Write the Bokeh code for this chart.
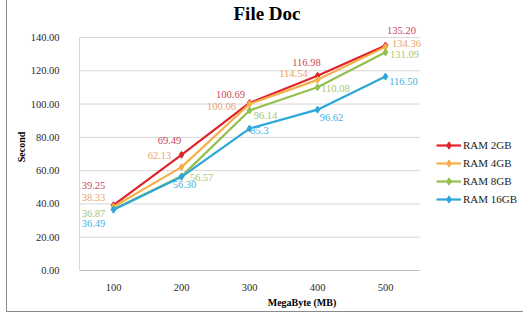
from bokeh.plotting import figure
from bokeh.models import (ColumnDataSource, Range1d, FixedTicker,
                          NumeralTickFormatter, LabelSet, Legend, LegendItem)
from bokeh.embed import file_html
from bokeh.resources import INLINE

# ---- data ----
sizes = [100, 200, 300, 400, 500]
series_names = ["RAM 2GB", "RAM 4GB", "RAM 8GB", "RAM 16GB"]
ram_2gb = [39.25, 69.49, 100.69, 116.98, 135.20]
ram_4gb = [38.33, 62.13, 100.06, 114.54, 134.36]
ram_8gb = [36.87, 56.57, 96.14, 110.08, 131.09]
ram_16gb = [36.49, 56.30, 85.3, 96.62, 116.50]
label_2gb = ["39.25", "69.49", "100.69", "116.98", "135.20"]
label_4gb = ["38.33", "62.13", "100.06", "114.54", "134.36"]
label_8gb = ["36.87", "56.57", "96.14", "110.08", "131.09"]
label_16gb = ["36.49", "56.30", "85.3", "96.62", "116.50"]
y_ticks = [0, 20, 40, 60, 80, 100, 120, 140]

# ---- styling (label offsets in screen px) ----
line_colors = ["#e0222b", "#f5b04a", "#93c04d", "#2ba7d8"]
text_colors = ["#c9475a", "#eaa46c", "#a6c772", "#45b0e0"]
dx_2gb = [-20, -12, -19, -11, 16]
dy_2gb = [20, 14, 8, 13, 15]
dx_4gb = [-20, -22, -28, -24, 21]
dy_4gb = [9, 12, -3, 6, 3]
dx_8gb = [-20, 20, 16, 18, 19]
dy_8gb = [-4, -1, -5, -1, -2]
dx_16gb = [-20, 3, 10, 14, 18]
dy_16gb = [-14, -8, -2, -8, -5]

FONT = "Liberation Serif"

step = sizes[1] - sizes[0]
x_lo = sizes[0] - step / 2
x_hi = sizes[-1] + step / 2

p = figure(width=517, height=312,
           x_range=Range1d(x_lo, x_lo + 445 / 0.68),
           y_range=Range1d(0, 148.4), output_backend="svg", toolbar_location=None,
           min_border_left=72, min_border_right=0, min_border_top=22,
           min_border_bottom=42)
p.outline_line_color = None
p.background_fill_color = "white"
p.border_fill_color = "white"
p.styles = {"margin-left": "6px", "border-left": "1px solid #8a8a8a",
            "border-bottom": "1px solid #8a8a8a"}

p.title.text = "File Doc"
p.title.align = "left"
p.title.offset = 154
p.title.standoff = 0
p.title.text_font = FONT
p.title.text_font_size = "19px"
p.title.text_font_style = "bold"
p.title.text_color = "black"

p.xgrid.grid_line_color = None
p.ygrid.grid_line_color = None

# horizontal gridlines limited to the plot area (category span)
p.segment(x0=x_lo, x1=x_hi, y0=y_ticks, y1=y_ticks, line_color="#d6d6d6",
          line_width=1, level="underlay")

p.xaxis.ticker = FixedTicker(ticks=sizes)
p.xaxis.bounds = (x_lo, x_hi)
p.yaxis.ticker = FixedTicker(ticks=y_ticks)
p.yaxis.bounds = (y_ticks[0], y_ticks[-1])
p.yaxis.formatter = NumeralTickFormatter(format="0.00")

for ax in (p.xaxis[0], p.yaxis[0]):
    ax.major_tick_line_color = None
    ax.minor_tick_line_color = None
    ax.major_label_text_font = FONT
    ax.major_label_text_font_size = "10.5px"
    ax.major_label_text_color = "#2a2a2a"
    ax.axis_label_text_font = FONT
    ax.axis_label_text_font_style = "bold"
    ax.axis_label_text_font_size = "10px"
    ax.axis_label_text_color = "black"

p.xaxis.axis_label = "MegaByte (MB)"
p.xaxis.axis_line_color = "#bfbfbf"
p.xaxis.major_label_standoff = 7
p.xaxis.axis_label_standoff = 3
p.yaxis.axis_label = "Second"
p.yaxis.axis_line_color = "#d9d9d9"
p.yaxis.major_label_standoff = 14
p.yaxis.axis_label_standoff = 1

all_vals = [ram_2gb, ram_4gb, ram_8gb, ram_16gb]
all_labels = [label_2gb, label_4gb, label_8gb, label_16gb]
all_dx = [dx_2gb, dx_4gb, dx_8gb, dx_16gb]
all_dy = [dy_2gb, dy_4gb, dy_8gb, dy_16gb]

items = []
for name, vals, labs, dx, dy, lc, tc in zip(series_names, all_vals, all_labels,
                                            all_dx, all_dy, line_colors, text_colors):
    src = ColumnDataSource(dict(x=sizes, y=vals, t=labs, dx=dx, dy=dy))
    r1 = p.line("x", "y", source=src, line_color=lc, line_width=2.2)
    r2 = p.scatter("x", "y", source=src, marker="diamond", size=7,
                   fill_color=lc, line_color=lc)
    items.append(LegendItem(label=name, renderers=[r1, r2]))
    ls = LabelSet(x="x", y="y", text="t", source=src, x_offset="dx", y_offset="dy",
                  text_align="center", text_baseline="middle", text_font=FONT,
                  text_font_size="10.5px", text_color=tc)
    p.add_layout(ls)

legend = Legend(items=items, location=(357, 62), padding=0, margin=0,
                border_line_color=None, background_fill_alpha=0,
                glyph_width=25, glyph_height=18, label_height=18, spacing=0,
                label_standoff=2, label_text_font=FONT, label_text_font_size="11px",
                label_text_color="#222222")
p.add_layout(legend, "center")

open("out.html", "w").write(file_html(p, INLINE))
